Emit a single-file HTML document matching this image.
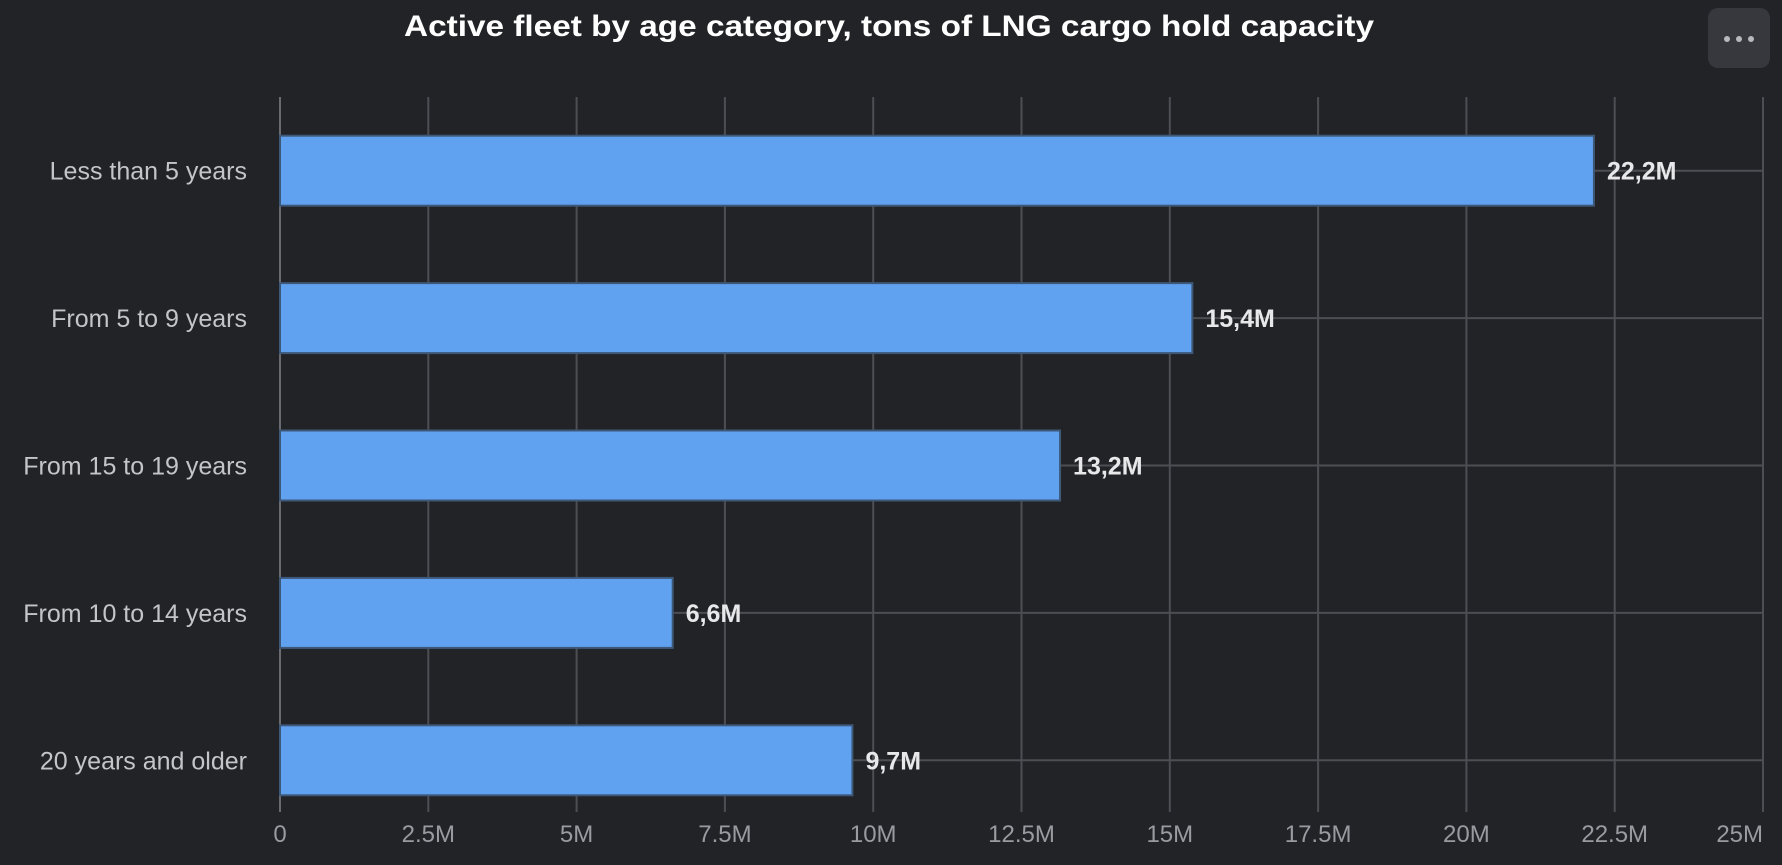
<!DOCTYPE html>
<html><head><meta charset="utf-8"><style>
html,body{margin:0;padding:0;background:#222327;width:1782px;height:865px;overflow:hidden}
svg{display:block;font-family:"Liberation Sans",sans-serif}
</style></head><body>
<svg width="1782" height="865">
<text x="889" y="36" text-anchor="middle" fill="#ffffff" font-size="30" font-weight="bold" textLength="970" lengthAdjust="spacingAndGlyphs">Active fleet by age category, tons of LNG cargo hold capacity</text>
<g>
<rect x="1708" y="8" width="62" height="60" rx="10" fill="#37383d"/>
<circle cx="1727" cy="39" r="3" fill="#b8b9bd"/><circle cx="1739" cy="39" r="3" fill="#b8b9bd"/><circle cx="1751" cy="39" r="3" fill="#b8b9bd"/>
</g>
<g id="grid"></g>
<g id="bars"></g>
<g id="labels"></g>
</svg>
<script>
const categories=["Less than 5 years","From 5 to 9 years","From 15 to 19 years","From 10 to 14 years","20 years and older"];
const values=[22.15,15.38,13.15,6.62,9.65];
const valueLabels=["22,2M","15,4M","13,2M","6,6M","9,7M"];
const tickValues=[0,2.5,5,7.5,10,12.5,15,17.5,20,22.5,25];
const tickLabels=["0","2.5M","5M","7.5M","10M","12.5M","15M","17.5M","20M","22.5M","25M"];
const X0=280,X1=1763,Y0=97,Y1=834,GB=812;
const ns="http://www.w3.org/2000/svg";
function x(v){return X0+(v-0)/(25-0)*(X1-X0);}
const band=(Y1-Y0)/categories.length;
function yc(i){return Y0+band*(i+0.5);}
function mk(t,a,p){const e=document.createElementNS(ns,t);for(const k in a)e.setAttribute(k,a[k]);p.appendChild(e);return e;}
const grid=document.getElementById('grid'),bars=document.getElementById('bars'),labels=document.getElementById('labels');
tickValues.forEach((v,i)=>{
 const l=mk('line',{x1:x(v),x2:x(v),y1:Y0,y2:GB,stroke:i==0?'#6a6b70':'#4d4e53','stroke-width':2},grid);
 
 
 const t=mk('text',{x:x(v),y:842,'text-anchor':i==tickValues.length-1?'end':'middle',fill:'#9a9ba0','font-size':24},labels);
 t.textContent=tickLabels[i];
 
 
});
categories.forEach((c,i)=>{
 const l=mk('line',{x1:X0,x2:X1,y1:yc(i),y2:yc(i),stroke:'#4d4e53','stroke-width':2},grid);
 
 
 const h=70;
 const r=mk('rect',{x:X0,y:yc(i)-h/2,width:x(values[i])-X0,height:h,fill:'#60a1f0',stroke:'#3e5878','stroke-width':2},bars);
 
 
 const t=mk('text',{x:247,y:yc(i)+9,'text-anchor':'end',fill:'#c4c5c9','font-size':25},labels);
 t.textContent=c;
 
 
 const v=mk('text',{x:x(values[i])+13,y:yc(i)+9,fill:'#e8e8ea','font-size':25,'font-weight':'bold'},labels);
 v.textContent=valueLabels[i];
 
 
});
</script>
</body></html>
